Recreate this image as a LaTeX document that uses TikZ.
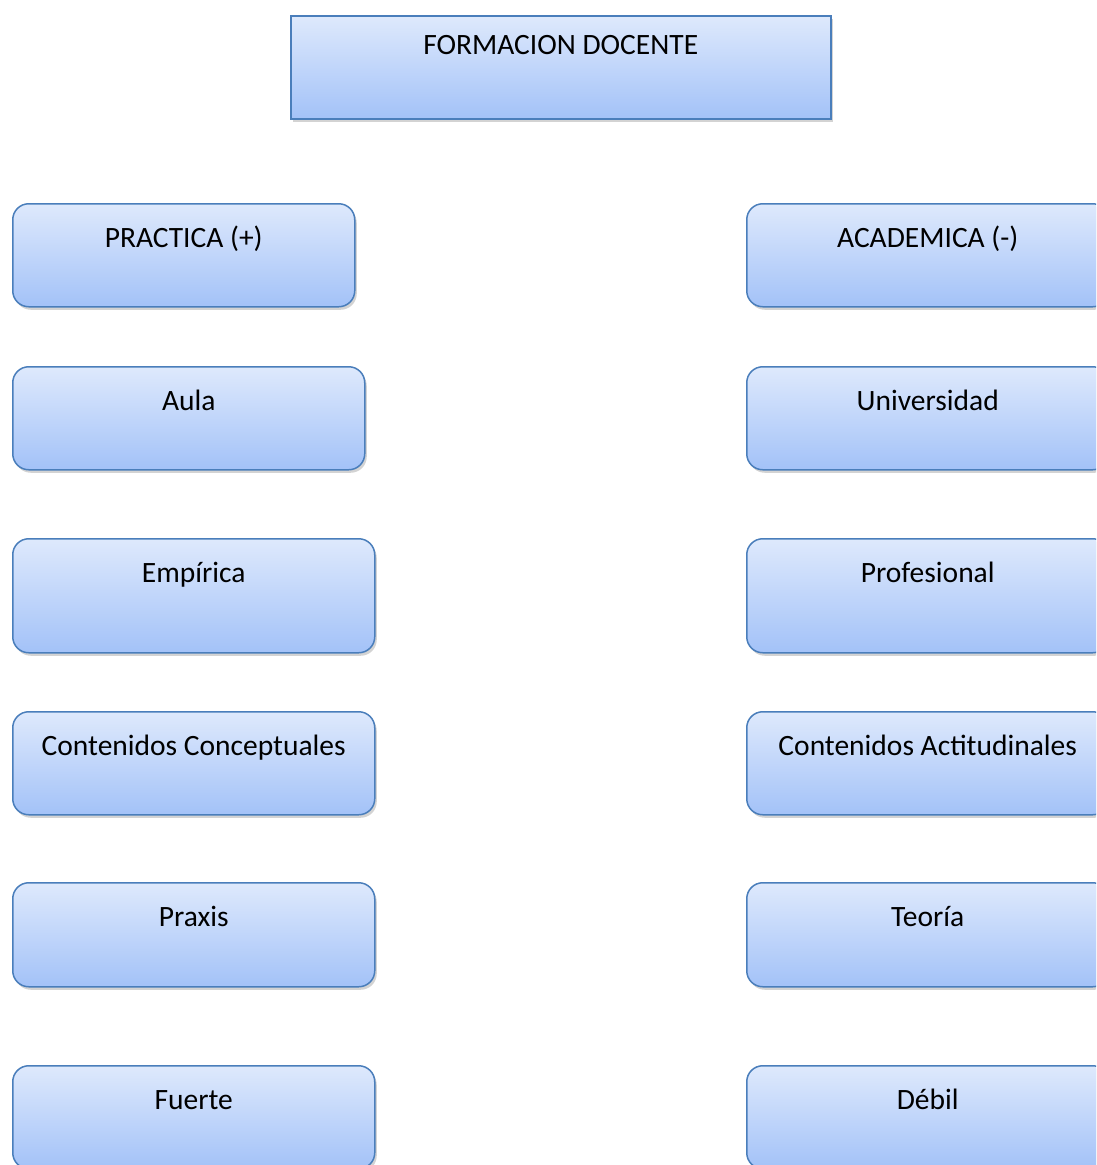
\documentclass[tikz,border=0pt]{standalone}
\usepackage{fontspec}
\setmainfont{Carlito}
\usetikzlibrary{shadows}
\definecolor{boxtop}{HTML}{DEE9FC}
\definecolor{boxbot}{HTML}{A3C2F8}
\definecolor{boxline}{HTML}{4A7EBB}
\tikzset{
  basebox/.style={draw=boxline, line width=1.5pt, top color=boxtop, bottom color=boxbot,
    drop shadow={shadow xshift=2pt, shadow yshift=-3pt, opacity=0.35},
    anchor=north west, inner sep=0pt},
  sqbox/.style={basebox, rectangle},
  rbox/.style={basebox, rounded corners=16pt, minimum height=103pt},
  lbl/.style={anchor=base, inner sep=0pt, font=\fontsize{29.5}{34}\selectfont, text=black}
}
\begin{document}
\begin{tikzpicture}[x=1pt,y=-1pt]
\useasboundingbox (0,0) rectangle (1096,1165);
\begin{scope}
\clip (0,0) rectangle (1096,1165);
\node[sqbox, minimum width=540pt, minimum height=103pt] (top) at (290,15) {};
% left column
\node[rbox, minimum width=342pt] (l1) at (12,203) {};
\node[rbox, minimum width=352pt] (l2) at (12,366) {};
\node[rbox, minimum width=362pt, minimum height=114pt] (l3) at (12,538) {};
\node[rbox, minimum width=362pt] (l4) at (12,711) {};
\node[rbox, minimum width=362pt, minimum height=104pt] (l5) at (12,882) {};
\node[rbox, minimum width=362pt] (l6) at (12,1065) {};
% right column
\node[rbox, minimum width=362pt] (r1) at (746,203) {};
\node[rbox, minimum width=362pt] (r2) at (746,366) {};
\node[rbox, minimum width=362pt, minimum height=114pt] (r3) at (746,538) {};
\node[rbox, minimum width=362pt] (r4) at (746,711) {};
\node[rbox, minimum width=362pt, minimum height=104pt] (r5) at (746,882) {};
\node[rbox, minimum width=362pt] (r6) at (746,1065) {};
\end{scope}
\node[lbl] (ttop) at ([yshift=-39pt]top.north) {FORMACION DOCENTE};
\node[lbl] (tl1) at ([yshift=-44pt]l1.north) {PRACTICA (+)};
\node[lbl] (tl2) at ([yshift=-44pt]l2.north) {Aula};
\node[lbl] (tl3) at ([yshift=-44pt]l3.north) {Empírica};
\node[lbl] (tl4) at ([yshift=-44pt]l4.north) {Contenidos Conceptuales};
\node[lbl] (tl5) at ([yshift=-44pt]l5.north) {Praxis};
\node[lbl] (tl6) at ([yshift=-44pt]l6.north) {Fuerte};
\node[lbl] (tr1) at ([yshift=-44pt]r1.north) {ACADEMICA (-)};
\node[lbl] (tr2) at ([yshift=-44pt]r2.north) {Universidad};
\node[lbl] (tr3) at ([yshift=-44pt]r3.north) {Profesional};
\node[lbl] (tr4) at ([yshift=-44pt]r4.north) {Contenidos Actitudinales};
\node[lbl] (tr5) at ([yshift=-44pt]r5.north) {Teoría};
\node[lbl] (tr6) at ([yshift=-44pt]r6.north) {Débil};
\end{tikzpicture}
\end{document}
